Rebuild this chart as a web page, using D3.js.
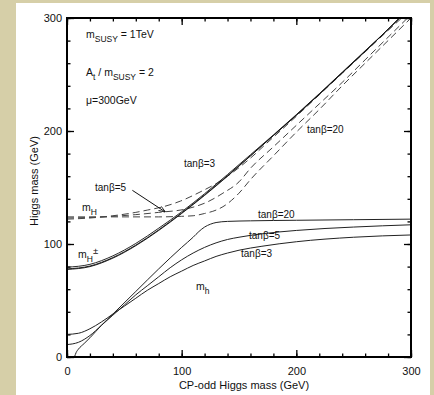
<!DOCTYPE html>
<html>
<head>
<meta charset="utf-8">
<script src="https://cdn.jsdelivr.net/npm/d3@7"></script>
<style>
  body { margin: 0; background: #d6cfa8; }
  #chart { position: absolute; left: 16px; top: 3px; width: 414px; height: 392px; background: #fff; }
  svg { position: absolute; left: 0; top: 0; }
  text { font-family: "Liberation Sans", Arial, sans-serif; fill: #111; }
</style>
</head>
<body>
<div id="chart"></div>
<svg id="plot" width="434" height="395"></svg>
<script>
// CP-odd Higgs mass (GeV) vs Higgs masses (GeV)
let xTicks = [0, 100, 200, 300];
let yTicks = [0, 100, 200, 300];

// light CP-even Higgs m_h (solid)
let mhTan3 = [[0,20],[10,21],[20,25],[30,31],[40,38],[50,45],[60,52],[70,59],[80,65],[90,71],[100,76],[110,81],[120,85],[130,89],[140,92],[150,94.5],[170,98],[200,102],[250,106],[300,108]];
let mhTan5 = [[0,11],[10,13],[20,19],[30,28],[40,37],[50,46],[60,55],[70,63],[80,71],[90,79],[100,86],[110,92],[120,97],[130,101],[140,104],[150,106],[170,109],[200,112],[250,115],[300,117]];
let mhTan20 = [[6.5,0],[8,4],[10,7],[15,12],[20,17],[30,28],[40,38],[60,58],[80,78],[100,97],[110,106],[115,111],[120,115],[125,117.5],[130,119],[140,120],[160,120.5],[200,121],[250,121.5],[300,122]];

// heavy CP-even Higgs m_H (dashed)
let mHTan3 = [[0,122],[20,123],[40,125],[60,128],[70,130],[84,133],[99,138],[118,147],[131,154],[140,160],[160,176],[174,189],[200,213],[220,232],[240,251],[260,270],[280,289],[293,301]];
let mHTan5 = [[0,123],[20,123.5],[40,124.5],[60,126],[80,128],[104,131],[122,137],[136,145],[150,155],[160,167],[180,186],[200,205],[220,224],[240,243],[260,263],[280,283],[297,300]];
let mHTan20 = [[0,124],[40,124],[80,124],[100,124.5],[110,125],[120,127],[130,130],[136,133],[150,145],[160,157],[180,178],[200,199],[220,219],[240,240],[260,260],[280,280],[300,300]];

// charged Higgs m_H± (nearly overlapping, looks like a double line)
let mHcTan3 = [[0,79.5],[20,82],[40,89.5],[60,100.5],[80,114],[100,128.5],[120,144.5],[140,161.5],[160,179],[180,196.5],[200,214.5],[220,233],[240,252],[260,271],[280,290],[290,300]];
let mHcTan5 = [[0,78],[20,80.5],[40,88],[60,99],[80,112.5],[100,127.5],[120,143.5],[140,160.5],[160,178],[180,196],[200,214],[220,232.5],[240,251.5],[260,270.5],[280,290],[290,300]];
let mHcTan20 = [[0,77.5],[20,80],[40,87.5],[60,98.5],[80,112],[100,127],[120,143],[140,160],[160,178],[180,196],[200,214],[220,232.5],[240,251.5],[260,270.5],[280,290],[290,300]];

let margin = { top: 18, left: 67 },
    width = 344,
    height = 339;

let svg = d3.select("#plot")
    .append("g")
    .attr("transform", `translate(${margin.left},${margin.top})`);

let x = d3.scaleLinear().domain([0, 300]).range([0, width]);
let y = d3.scaleLinear().domain([0, 300]).range([height, 0]);

svg.append("clipPath").attr("id", "clip")
    .append("rect").attr("width", width).attr("height", height);

// ticks, inward on all four sides
let minor = d3.range(0, 301, 20);
function tickAxis(axis, scale, size, vals, pos) {
    let g = svg.append("g")
        .attr("transform", pos)
        .call(axis(scale).tickValues(vals).tickSize(size).tickFormat(""));
    g.select(".domain").remove();
    g.selectAll("line").attr("stroke", "#000").attr("stroke-width", 1.3);
}
tickAxis(d3.axisBottom, x, -3.5, minor, `translate(0,${height})`);
tickAxis(d3.axisBottom, x, -7, xTicks, `translate(0,${height})`);
tickAxis(d3.axisTop, x, -3.5, minor, "translate(0,0)");
tickAxis(d3.axisTop, x, -7, xTicks, "translate(0,0)");
tickAxis(d3.axisLeft, y, -3.5, minor, "translate(0,0)");
tickAxis(d3.axisLeft, y, -7, yTicks, "translate(0,0)");
tickAxis(d3.axisRight, y, -3.5, minor, `translate(${width},0)`);
tickAxis(d3.axisRight, y, -7, yTicks, `translate(${width},0)`);

// tick labels
let xl = svg.append("g")
    .attr("transform", `translate(0,${height})`)
    .call(d3.axisBottom(x).tickValues(xTicks).tickSize(0).tickPadding(10));
xl.select(".domain").remove();
xl.selectAll("text").style("font-size", "11px").style("font-family", "Liberation Sans, Arial, sans-serif").attr("fill", "#111");

let yl = svg.append("g")
    .call(d3.axisLeft(y).tickValues(yTicks).tickSize(0).tickPadding(5));
yl.select(".domain").remove();
yl.selectAll("text").style("font-size", "11px").style("font-family", "Liberation Sans, Arial, sans-serif").attr("fill", "#111");

let line = d3.line()
    .x(d => x(d[0]))
    .y(d => y(d[1]))
    .curve(d3.curveMonotoneX);

let curves = svg.append("g").attr("clip-path", "url(#clip)");

// m_h
[mhTan3, mhTan5, mhTan20].forEach(s => {
    curves.append("path").datum(s)
        .attr("d", line)
        .attr("fill", "none")
        .attr("stroke", "#222")
        .attr("stroke-width", 1);
});

// m_H dashed
[mHTan3, mHTan5, mHTan20].forEach(s => {
    curves.append("path").datum(s)
        .attr("d", line)
        .attr("fill", "none")
        .attr("stroke", "#444")
        .attr("stroke-width", 1)
        .attr("stroke-dasharray", "7,4");
});

// m_H± double line
[mHcTan3, mHcTan5, mHcTan20].forEach(s => {
    curves.append("path").datum(s)
        .attr("d", line)
        .attr("fill", "none")
        .attr("stroke", "#111")
        .attr("stroke-width", 0.9);
});

// frame
svg.append("rect")
    .attr("width", width)
    .attr("height", height)
    .attr("fill", "none")
    .attr("stroke", "#000")
    .attr("stroke-width", 2);

// arrow pointing to the tanβ=5 dashed curve
svg.append("defs").append("marker")
    .attr("id", "arrow")
    .attr("viewBox", "0 0 10 10")
    .attr("refX", 9).attr("refY", 5)
    .attr("markerWidth", 7).attr("markerHeight", 7)
    .attr("orient", "auto")
    .append("path")
    .attr("d", "M0,1.5L10,5L0,8.5")
    .attr("fill", "none")
    .attr("stroke", "#111")
    .attr("stroke-width", 1.2);

svg.append("line")
    .attr("x1", x(57)).attr("y1", y(147.5))
    .attr("x2", x(85.5)).attr("y2", y(128.5))
    .attr("stroke", "#111")
    .attr("stroke-width", 1)
    .attr("marker-end", "url(#arrow)");

// text annotations
function label(px, py, parts, size, color) {
    let t = svg.append("text")
        .attr("x", px).attr("y", py)
        .style("font-size", size + "px")
        .attr("fill", color || "#111");
    parts.forEach(p => {
        let ts = t.append("tspan").text(p.t);
        if (p.sub) ts.attr("dy", 3.5).style("font-size", (size - 2) + "px");
        if (p.sup) ts.attr("dy", -8).style("font-size", (size - 1) + "px");
        if (p.back) ts.attr("dy", p.back);
    });
    return t;
}

label(19, 20, [{t: "m"}, {t: "SUSY", sub: true}, {t: " = 1TeV", back: -3.5}], 10.5);
label(19, 58, [{t: "A"}, {t: "t", sub: true}, {t: " / m", back: -3.5}, {t: "SUSY", sub: true}, {t: " = 2", back: -3.5}], 10.5);
label(19, 86, [{t: "\u03bc=300GeV"}], 10.5);

label(240, 115, [{t: "tan\u03b2=20"}], 10);
label(117, 149, [{t: "tan\u03b2=3"}], 10);
label(28, 173, [{t: "tan\u03b2=5"}], 10);

label(15, 193, [{t: "m"}, {t: "H", sub: true}], 10.5, "#1c2a4a");
label(11, 240, [{t: "m"}, {t: "H", sub: true}, {t: "\u00b1", sup: true}], 10.5, "#1c2a4a");
label(129, 272, [{t: "m"}, {t: "h", sub: true}], 10.5, "#1c2a4a");

label(191, 200, [{t: "tan\u03b2=20"}], 10);
label(182, 221, [{t: "tan\u03b2=5"}], 10);
label(174, 239, [{t: "tan\u03b2=3"}], 10);

// axis titles
svg.append("text")
    .attr("x", width / 2 + 5)
    .attr("y", height + 32)
    .attr("text-anchor", "middle")
    .style("font-size", "11px")
    .text("CP-odd Higgs mass (GeV)");

svg.append("text")
    .attr("transform", "rotate(-90)")
    .attr("x", -163)
    .attr("y", -29)
    .attr("text-anchor", "middle")
    .style("font-size", "11px")
    .text("Higgs mass (GeV)");
</script>
</body>
</html>
